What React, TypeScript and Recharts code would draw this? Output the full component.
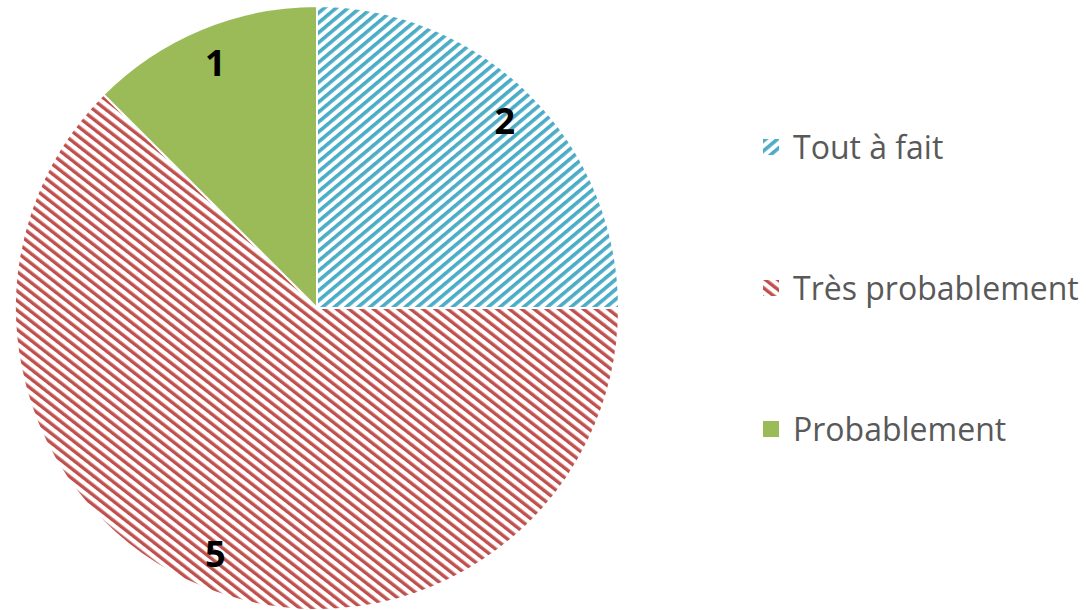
import { PieChart, Pie, Cell, Legend } from "recharts";

// Survey answers
const categories = ["Tout à fait", "Très probablement", "Probablement"];
const counts = [2, 5, 1];
const fills = ["url(#stripeBlue)", "url(#stripeRed)", "#9BBB59"];

const pieData = categories.map((name, i) => ({ name, value: counts[i] }));

const RADIAN = Math.PI / 180;

const renderLabel = (props: any) => {
    const { cx, cy, midAngle, outerRadius, value } = props;
    const r = outerRadius * 0.88;
    const x = cx + r * Math.cos(-midAngle * RADIAN);
    const y = cy + r * Math.sin(-midAngle * RADIAN);
    return (
        <text
            x={x}
            y={y}
            fill="#000"
            textAnchor="middle"
            dominantBaseline="central"
            fontFamily="'Open Sans', sans-serif"
            fontWeight="bold"
            fontSize={36}
        >
            {value}
        </text>
    );
};

const renderLegend = () => (
    <div style={{ fontFamily: "'Open Sans', sans-serif" }}>
        {categories.map((name, i) => (
            <div
                key={name}
                style={{ display: "flex", alignItems: "center", height: 141 }}
            >
                <svg width={16} height={16} style={{ marginRight: 14 }}>
                    <rect width={16} height={16} fill={fills[i]} />
                </svg>
                <span style={{ fontSize: 32, color: "#595959" }}>{name}</span>
            </div>
        ))}
    </div>
);

function App() {
    return (
        <>
            <style>{`body{margin:0}`}</style>
            <PieChart width={1086} height={610} margin={{ top: 0, right: 0, bottom: 0, left: 0 }}>
                <defs>
                    <pattern
                        id="stripeBlue"
                        patternUnits="userSpaceOnUse"
                        width={7.6}
                        height={20}
                        patternTransform="rotate(50)"
                    >
                        <rect width={3.6} height={20} fill="#4BACC6" />
                    </pattern>
                    <pattern
                        id="stripeRed"
                        patternUnits="userSpaceOnUse"
                        width={7.6}
                        height={20}
                        patternTransform="rotate(-52)"
                    >
                        <rect width={3.4} height={20} fill="#C0504D" />
                    </pattern>
                </defs>
                <Pie
                    data={pieData}
                    dataKey="value"
                    nameKey="name"
                    cx={317}
                    cy={308}
                    outerRadius={302}
                    startAngle={90}
                    endAngle={-270}
                    stroke="#fff"
                    strokeWidth={2}
                    label={renderLabel}
                    labelLine={false}
                    isAnimationActive={false}
                >
                    {pieData.map((d, i) => (
                        <Cell key={d.name} fill={fills[i]} />
                    ))}
                </Pie>
                <Legend
                    layout="vertical"
                    content={renderLegend}
                    wrapperStyle={{ left: 763, top: 76, width: 323 }}
                />
            </PieChart>
        </>
    );
}

export default App;
